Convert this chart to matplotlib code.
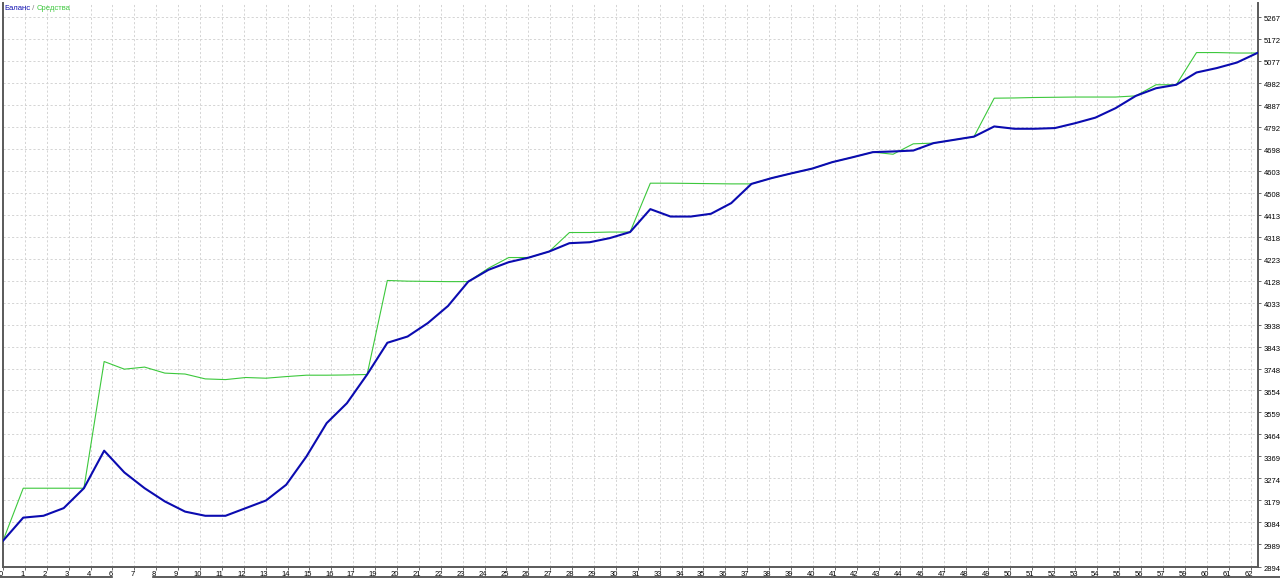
#!/usr/bin/env python3
"""Balance / equity curve of a tester report."""

import matplotlib
matplotlib.use("Agg")
import matplotlib.pyplot as plt
import matplotlib.transforms as mtransforms
from matplotlib.lines import Line2D
import numpy as np

plt.rcParams.update({
    "font.family": ["Liberation Sans", "DejaVu Sans"],
    "font.size": 5.5,
})

# trade number 0..62
trades = list(range(63))

balance = [
    3005, 3105, 3113, 3146, 3232, 3394, 3300, 3232, 3175, 3131,
    3113, 3113, 3146, 3179, 3247, 3369, 3513, 3599, 3723, 3860,
    3887, 3945, 4019, 4124, 4175, 4208, 4228, 4254, 4290, 4294,
    4312, 4338, 4437, 4405, 4405, 4417, 4463, 4546, 4571, 4592,
    4612, 4640, 4661, 4683, 4686, 4690, 4722, 4736, 4750, 4794,
    4784, 4784, 4787, 4808, 4832, 4873, 4926, 4959, 4974, 5027,
    5046, 5070, 5111,
]

equity = [
    3005, 3232, 3232, 3232, 3232, 3779, 3746, 3755, 3729, 3725,
    3704, 3701, 3710, 3707, 3714, 3720, 3720, 3721, 3723, 4129,
    4126, 4125, 4124, 4124, 4182, 4228, 4228, 4254, 4336, 4336,
    4338, 4338, 4549, 4549, 4548, 4547, 4546, 4546, 4571, 4592,
    4612, 4640, 4661, 4683, 4674, 4719, 4722, 4736, 4750, 4916,
    4917, 4919, 4920, 4921, 4921, 4921, 4926, 4974, 4974, 5113,
    5113, 5111, 5111,
]

x_labels = [
    0, 1, 2, 3, 4, 6, 7, 8, 9, 10, 11, 12, 13, 14, 15, 16, 17, 19, 20,
    21, 22, 23, 24, 25, 26, 27, 28, 29, 30, 31, 33, 34, 35, 36, 37, 38,
    39, 40, 41, 42, 43, 44, 46, 47, 48, 49, 50, 51, 52, 53, 54, 55, 56,
    57, 59, 60, 61, 62,
]

y_ticks = [
    2894, 2989, 3084, 3179, 3274, 3369, 3464, 3559, 3654, 3748, 3843,
    3938, 4033, 4128, 4223, 4318, 4413, 4508, 4603, 4698, 4792, 4887,
    4982, 5077, 5172, 5267,
]

BLUE = "#0B0BB0"
GREEN = "#3CC83C"
FRAME = "#5A5A5A"
GRID = "#D4D4D4"

W, H = 1280, 578
fig = plt.figure(figsize=(W / 100, H / 100), dpi=100)
ax = fig.add_axes([3 / W, 11.5 / H, 1255 / W, 563.5 / H])

ax.plot(trades, equity, color=GREEN, linewidth=0.8, zorder=3)
ax.plot(trades, balance, color=BLUE, linewidth=1.5, zorder=4)

# grid: vertical lines are a bit wider apart than the trade spacing
grid_step = 1.082
ax.set_xticks(np.arange(len(x_labels)) * grid_step)
ax.set_xticklabels([str(v) for v in x_labels])
ax.set_yticks(y_ticks)
ax.set_yticklabels([str(v) for v in y_ticks])
ax.set_xlim(0, 62.04)
ax.set_ylim(2894, 5327)

ax.grid(True, color=GRID, linewidth=0.7, linestyle=(0, (2.2, 2.2)), zorder=0)

ax.yaxis.tick_right()
ax.tick_params(axis="both", length=2, width=0.6, color="#505050",
               labelsize=5.5, labelcolor="#000000")
ax.tick_params(axis="y", pad=2)
ax.tick_params(axis="x", pad=1)

offset = mtransforms.ScaledTranslation(0, -2 / 100, fig.dpi_scale_trans)
for lbl in ax.get_yticklabels():
    lbl.set_transform(lbl.get_transform() + offset)
xoff = mtransforms.ScaledTranslation(-2 / 100, 0, fig.dpi_scale_trans)
for lbl in ax.get_xticklabels():
    lbl.set_transform(lbl.get_transform() + xoff)

ax.spines["top"].set_visible(False)
for side in ("left", "bottom", "right"):
    ax.spines[side].set_color(FRAME)
    ax.spines[side].set_linewidth(1.4)

# legend text in the top left corner
t1 = fig.text(4 / W, 1 - 8 / H, "Баланс", color=BLUE, fontsize=5.5,
              va="center")
t2 = ax.annotate(" / ", xy=(1, 0), xycoords=t1, va="bottom", fontsize=5.5,
                 color="#808080")
ax.annotate("Средства", xy=(1, 0), xycoords=t2, va="bottom", fontsize=5.5,
            color=GREEN)

# dark strip at the very bottom of the window
fig.add_artist(Line2D([0, 112 / W], [0.7 / H] * 2, color="#404040", lw=1.2))
fig.add_artist(Line2D([153 / W, 1], [0.7 / H] * 2, color="#404040", lw=1.2))

fig.savefig("out.png", dpi=100, facecolor="white")
